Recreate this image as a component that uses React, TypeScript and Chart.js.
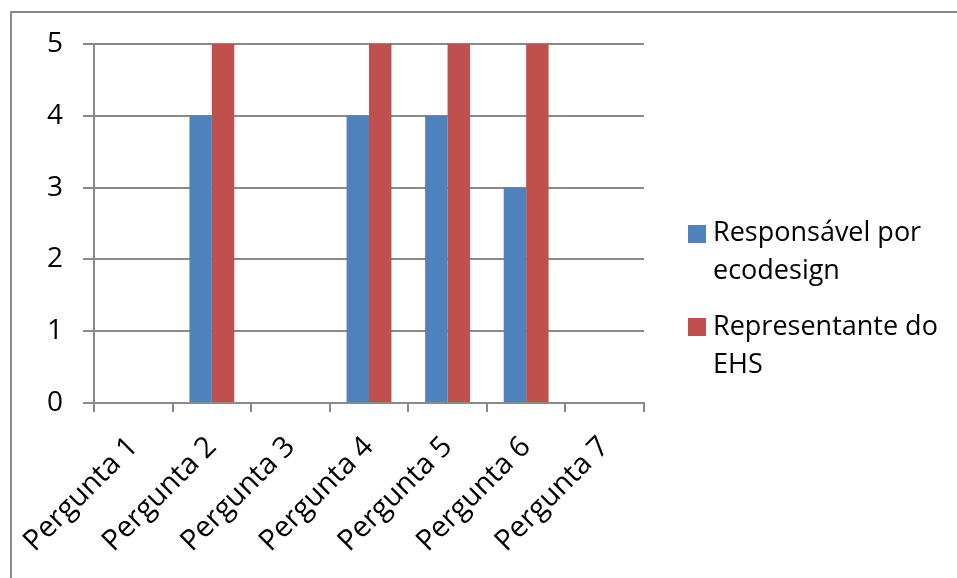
import React, { useEffect, useRef } from "react";
import { Chart, registerables } from "chart.js";

Chart.register(...registerables);

const categories = ["Pergunta 1", "Pergunta 2", "Pergunta 3", "Pergunta 4", "Pergunta 5", "Pergunta 6", "Pergunta 7"];
const seriesNames = ["Responsável por ecodesign", "Representante do EHS"];
const ecodesignValues = [0, 4, 0, 4, 4, 3, 0];
const ehsValues = [0, 5, 0, 5, 5, 5, 0];
const yTicks = [0, 1, 2, 3, 4, 5];
const seriesColors = ["#4F81BD", "#C0504D"];

const FONT = "'Open Sans', 'Noto Sans', sans-serif";
const GRID = "#898989";

export default function App() {
  const ref = useRef<HTMLCanvasElement | null>(null);

  useEffect(() => {
    if (!ref.current) return;
    const chart = new Chart(ref.current, {
      type: "bar",
      data: {
        labels: categories,
        datasets: [
          { label: seriesNames[0], data: ecodesignValues, backgroundColor: seriesColors[0], borderWidth: 0 },
          { label: seriesNames[1], data: ehsValues, backgroundColor: seriesColors[1], borderWidth: 0 },
        ],
      },
      options: {
        responsive: false,
        animation: false,
        devicePixelRatio: 1,
        layout: { padding: { left: 0, top: 44, right: 313, bottom: 0 } },
        plugins: { legend: { display: false }, tooltip: { enabled: false } },
        datasets: { bar: { categoryPercentage: 0.571, barPercentage: 1 } },
        scales: {
          x: {
            offset: true,
            grid: { display: true, drawOnChartArea: false, drawTicks: true, tickLength: 9, color: GRID, lineWidth: 2, offset: true },
            border: { display: true, color: GRID, width: 2 },
            ticks: { minRotation: 45, maxRotation: 45, autoSkip: false, color: "#000", font: { family: FONT, size: 29 }, padding: 18 },
            afterFit: (s: any) => { s.height = 175; },
          },
          y: {
            min: 0,
            max: 5,
            afterBuildTicks: (s: any) => { s.ticks = yTicks.map((v) => ({ value: v })); },
            grid: { color: GRID, lineWidth: 2, tickLength: 11, drawTicks: true },
            border: { display: true, color: GRID, width: 2 },
            ticks: { color: "#000", font: { family: FONT, size: 28 }, padding: 20 },
            afterFit: (s: any) => { s.width = 94; },
          },
        },
      },
    });
    return () => chart.destroy();
  }, []);

  const textStyle: React.CSSProperties = {
    position: "absolute",
    left: 713,
    width: 240,
    fontFamily: FONT,
    fontSize: 27,
    lineHeight: "38px",
    color: "#000",
  };
  const sq = (c: string, top: number): React.CSSProperties => ({
    position: "absolute",
    left: 688,
    top,
    width: 18,
    height: 18,
    background: c,
  });

  return (
    <div style={{ position: "absolute", left: 0, top: 0, width: 957, height: 578, overflow: "hidden", background: "#fff" }}>
      <div style={{ position: "absolute", left: 10, top: 11, width: 1200, height: 1200, borderLeft: `2px solid ${GRID}`, borderTop: `2px solid ${GRID}` }} />
      <canvas ref={ref} width={957} height={578} style={{ position: "absolute", left: 0, top: 0, width: 957, height: 578 }} />
      <div style={sq(seriesColors[0], 225)} />
      <div style={{ ...textStyle, top: 212 }}>{seriesNames[0]}</div>
      <div style={sq(seriesColors[1], 318)} />
      <div style={{ ...textStyle, top: 306 }}>{seriesNames[1]}</div>
    </div>
  );
}
